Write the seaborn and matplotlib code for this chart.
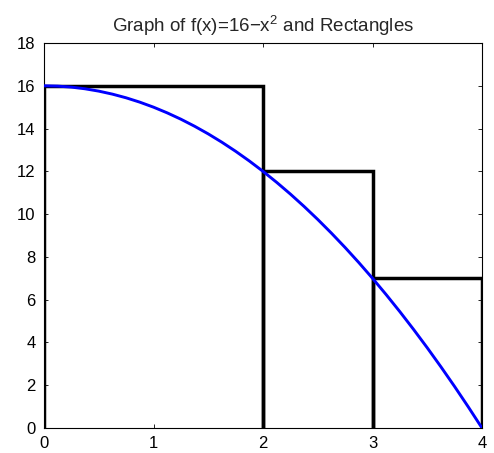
import matplotlib
matplotlib.use("Agg")
import matplotlib.pyplot as plt
import seaborn as sns
import pandas as pd

# Curve samples
curve_x = [0, 0.125, 0.25, 0.375, 0.5, 0.625, 0.75, 0.875, 1, 1.125, 1.25, 1.375,
           1.5, 1.625, 1.75, 1.875, 2, 2.125, 2.25, 2.375, 2.5, 2.625, 2.75, 2.875,
           3, 3.125, 3.25, 3.375, 3.5, 3.625, 3.75, 3.875, 4]
curve_y = [16, 15.984, 15.9375, 15.859, 15.75, 15.609, 15.4375, 15.234, 15, 14.734,
           14.4375, 14.109, 13.75, 13.359, 12.9375, 12.484, 12, 11.484, 10.9375,
           10.359, 9.75, 9.109, 8.4375, 7.734, 7, 6.234, 5.4375, 4.609, 3.75, 2.859,
           1.9375, 0.984, 0]

# Rectangles
rect_left = [0, 2, 3]
rect_right = [2, 3, 4]
rect_height = [16, 12, 7]

x_ticks = [0, 1, 2, 3, 4]
y_ticks = [0, 2, 4, 6, 8, 10, 12, 14, 16, 18]

sns.set_style("ticks")
plt.rcParams['font.family'] = ['Liberation Sans', 'DejaVu Sans']
plt.rcParams['mathtext.fontset'] = 'custom'
plt.rcParams['mathtext.rm'] = 'Liberation Sans'

fig = plt.figure(figsize=(4.94, 4.53), dpi=100)
ax = fig.add_axes([44 / 494, 1 - 428 / 453, (482 - 44) / 494, (428 - 43) / 453])

for l, r, h in zip(rect_left, rect_right, rect_height):
    ax.plot([l, l, r, r], [0, h, h, 0], color="black", linewidth=2.5,
            solid_joinstyle="miter", zorder=2)

df = pd.DataFrame({"x": curve_x, "y": curve_y})
sns.lineplot(data=df, x="x", y="y", ax=ax, color="#0000ff", linewidth=2.1, zorder=3)

ax.set_xlim(0, 4)
ax.set_ylim(0, 18)
ax.set_xticks(x_ticks)
ax.set_yticks(y_ticks)
ax.set_xlabel("")
ax.set_ylabel("")
ax.tick_params(direction="in", length=3, width=0.6, top=True, right=True,
               labelsize=12, colors="black")
ax.tick_params(axis="x", pad=6)
ax.tick_params(axis="y", pad=6)
for s in ax.spines.values():
    s.set_visible(True)
    s.set_linewidth(0.8)
    s.set_color("black")

ax.set_title("Graph of f(x)=16\u2212x$^{\\rm 2}$ and Rectangles", fontsize=13.5, pad=8)

fig.savefig("out.png", dpi=100)
